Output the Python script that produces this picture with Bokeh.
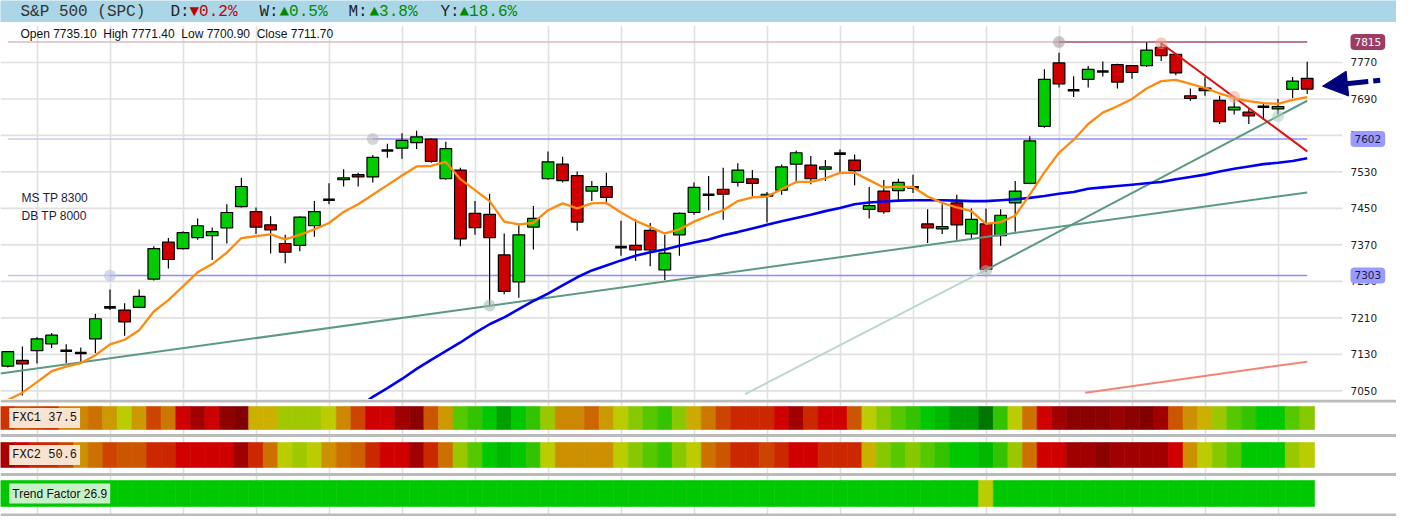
from bokeh.plotting import figure
from bokeh.models import Range1d, FixedTicker, Label, Arrow, NormalHead, Span, ColumnDataSource
from bokeh.layouts import column
from bokeh.embed import file_html
from bokeh.resources import INLINE
from bokeh.core.properties import value

# ---------------- data ----------------
opens = [7104, 7117, 7138, 7153, 7138, 7133, 7164, 7233, 7227, 7233,
         7295, 7376, 7362, 7386, 7390, 7407, 7454, 7443, 7414, 7373,
         7369, 7412, 7469, 7513, 7524, 7519, 7577, 7582, 7594, 7602,
         7515, 7534, 7439, 7437, 7348, 7289, 7409, 7515, 7547, 7522,
         7488, 7498, 7365, 7369, 7402, 7315, 7392, 7441, 7480, 7492,
         7507, 7515, 7477, 7490, 7547, 7545, 7536, 7570, 7556, 7448,
         7488, 7489, 7496, 7416, 7405, 7462, 7394, 7416, 7390, 7462,
         7505, 7630, 7769, 7709, 7733, 7750, 7765, 7763, 7763, 7803,
         7788, 7697, 7714, 7687, 7666, 7661, 7673, 7668, 7711, 7735.1]
highs = [7137, 7147, 7168, 7177, 7152, 7145, 7219, 7272, 7242, 7272,
         7367, 7385, 7400, 7428, 7408, 7459, 7517, 7452, 7433, 7392,
         7433, 7466, 7505, 7536, 7528, 7567, 7592, 7615, 7620, 7604,
         7596, 7539, 7466, 7482, 7395, 7413, 7455, 7575, 7563, 7531,
         7510, 7528, 7423, 7426, 7418, 7392, 7441, 7507, 7521, 7539,
         7549, 7534, 7486, 7546, 7577, 7565, 7556, 7579, 7568, 7497,
         7512, 7515, 7524, 7448, 7459, 7480, 7450, 7450, 7448, 7510,
         7608, 7755, 7791, 7740, 7762, 7772, 7767, 7764, 7814, 7814,
         7790, 7713, 7738, 7697, 7695, 7669, 7679, 7690, 7738, 7771.4]
lows = [7101, 7040, 7110, 7144, 7111, 7114, 7133, 7227, 7171, 7231,
        7292, 7318, 7360, 7381, 7337, 7373, 7452, 7394, 7351, 7330,
        7356, 7388, 7459, 7498, 7498, 7507, 7561, 7559, 7580, 7550,
        7513, 7367, 7392, 7238, 7262, 7254, 7360, 7513, 7507, 7401,
        7466, 7459, 7346, 7335, 7323, 7293, 7346, 7436, 7446, 7425,
        7498, 7476, 7419, 7480, 7508, 7503, 7510, 7529, 7501, 7428,
        7438, 7469, 7484, 7374, 7394, 7381, 7383, 7311, 7368, 7399,
        7503, 7627, 7715, 7694, 7715, 7739, 7713, 7734, 7760, 7773,
        7742, 7686, 7697, 7635, 7656, 7635, 7644, 7656, 7692, 7700.9]
closes = [7136, 7109, 7164, 7172, 7138, 7133, 7208, 7233, 7201, 7257,
          7362, 7338, 7397, 7412, 7399, 7441, 7498, 7409, 7403, 7354,
          7431, 7443, 7469, 7517, 7519, 7562, 7577, 7599, 7607, 7553,
          7581, 7383, 7408, 7386, 7268, 7392, 7428, 7552, 7511, 7420,
          7498, 7474, 7365, 7359, 7359, 7352, 7439, 7496, 7480, 7481,
          7534, 7505, 7481, 7541, 7572, 7515, 7541, 7570, 7533, 7456,
          7443, 7507, 7496, 7407, 7410, 7414, 7426, 7316, 7435, 7488,
          7598, 7733, 7723, 7709, 7755, 7750, 7727, 7748, 7797, 7785,
          7747, 7691, 7708, 7640, 7672, 7653, 7673, 7673, 7729, 7711.7]

ma_fast = [7030, 7046, 7069, 7093, 7103, 7111, 7128, 7152, 7162, 7183,
           7224, 7249, 7279, 7310, 7328, 7353, 7385, 7389, 7393, 7382,
           7392, 7404, 7418, 7442, 7459, 7480, 7501, 7522, 7542, 7543,
           7552, 7514, 7490, 7466, 7421, 7415, 7418, 7446, 7461, 7450,
           7461, 7462, 7441, 7423, 7409, 7395, 7404, 7421, 7434, 7446,
           7466, 7474, 7476, 7492, 7508, 7508, 7516, 7528, 7528, 7512,
           7496, 7497, 7497, 7476, 7462, 7452, 7444, 7416, 7420, 7434,
           7480, 7529, 7572, 7600, 7635, 7660, 7674, 7690, 7713, 7729,
           7732, 7723, 7714, 7702, 7692, 7685, 7681, 7679, 7688, 7694]

ma_slow_start = 24
ma_slow = [7013, 7037, 7056, 7076, 7098, 7118, 7137, 7156, 7177, 7196,
           7211, 7229, 7247, 7263, 7281, 7299, 7314, 7325, 7336, 7346,
           7354, 7360, 7368, 7375, 7382, 7391, 7398, 7406, 7414, 7422,
           7429, 7436, 7444, 7451, 7459, 7463, 7465, 7467, 7468, 7468,
           7468, 7467, 7466, 7466, 7468, 7470, 7473, 7477, 7482, 7486,
           7493, 7496, 7499, 7502, 7505, 7508, 7514, 7519, 7524, 7531,
           7537, 7542, 7547, 7550, 7554, 7560]

# trend lines: (bar index list, price list)
trend_long_x, trend_long_y = [-0.5, 89], [7088, 7485]
trend_steep_x, trend_steep_y = [67, 89], [7315, 7686]
trend_steep_ext_x, trend_steep_ext_y = [50.5, 67], [7043, 7315]
trend_down_x, trend_down_y = [79, 89], [7812, 7575]
channel_x, channel_y = [73.8, 89], [7046, 7114]

level_prices = [7815, 7602, 7303]
level_start = [72, 25, 7]
level_text = ["7815", "7602", "7303"]

anchor_idx = [7, 25, 33, 67, 72, 79, 84, 87]
anchor_price = [7303, 7602, 7237, 7313, 7815, 7812, 7694, 7652]

y_ticks = [7050, 7130, 7210, 7290, 7370, 7450, 7530, 7610, 7690, 7770]
xgrid_ticks = list(range(2, 90, 5))

notes = ["MS TP 8300", "DB TP 8000"]
notes_price = [7473, 7433]

header_parts = ["S&P 500 (SPC)", "D:", "\u25bc0.2%", "W:", "\u25b20.5%", "M:", "\u25b23.8%", "Y:", "\u25b218.6%"]
header_kind = ["name", "lab", "down", "lab", "up", "lab", "up", "lab", "up"]

fxc1_colors = ["#cc3300", "#cc5500", "#cc4400", "#cc3300", "#cc8800", "#cc8800", "#cc7000", "#cc9900", "#bbcc00", "#cc9900",
               "#cc4400", "#cc7700", "#d00000", "#a00000", "#cc0000", "#900000", "#800000", "#ccb000", "#ccb000", "#a0c800",
               "#a0c800", "#a0c800", "#bbcc00", "#cc8800", "#cc4400", "#d00000", "#d00000", "#a00000", "#8b0000", "#cc5500",
               "#cc9900", "#55c800", "#33c300", "#00c800", "#00a000", "#00c800", "#33c300", "#99c800", "#cc8800", "#cc8800",
               "#cc6600", "#cc9900", "#bbcc00", "#88c800", "#55c800", "#33c300", "#88c800", "#ccaa00", "#cc7700", "#cc4400",
               "#cc2800", "#cc2800", "#cc2800", "#d00000", "#a00000", "#cc2800", "#d00000", "#d00000", "#cc5500", "#bbcc00",
               "#88c800", "#55c800", "#33c300", "#00c800", "#00b800", "#00a000", "#00a000", "#007700", "#33c300", "#bbcc00",
               "#cc7000", "#d00000", "#a00000", "#8b0000", "#8b0000", "#8b0000", "#990000", "#8b0000", "#800000", "#a00000",
               "#cc5500", "#cc9000", "#ccb000", "#99c800", "#55c800", "#33c300", "#00c800", "#00c800", "#55c800", "#88c800"]
fxc2_colors = ["#a80000", "#d00000", "#cc2800", "#cc2800", "#cc4400", "#cc9000", "#cc7000", "#cc4400", "#cc5500", "#cc5500",
               "#cc2800", "#cc2800", "#d00000", "#d00000", "#d00000", "#d00000", "#a00000", "#cc2800", "#cc7000", "#bbcc00",
               "#a0c800", "#bbcc00", "#cc9000", "#cc7000", "#cc6000", "#cc2800", "#d00000", "#d00000", "#a00000", "#cc2800",
               "#cc7000", "#99c800", "#55c800", "#00c800", "#00b800", "#00c800", "#33c300", "#bbcc00", "#cc9000", "#cc9000",
               "#cc9000", "#cc9000", "#bbcc00", "#88c800", "#55c800", "#33c300", "#88c800", "#bbcc00", "#cc7000", "#cc5500",
               "#cc2800", "#cc2800", "#cc4400", "#cc2800", "#d00000", "#d00000", "#cc2800", "#cc2800", "#cc2800", "#ccb000",
               "#88c800", "#55c800", "#88c800", "#55c800", "#33c300", "#00c800", "#00c800", "#00b800", "#33c300", "#99c800",
               "#cc7000", "#d00000", "#d00000", "#a00000", "#a00000", "#8b0000", "#a00000", "#a00000", "#a00000", "#a00000",
               "#d00000", "#cc9000", "#bbcc00", "#88c800", "#55c800", "#00c800", "#00c800", "#00c800", "#99c800", "#bbcc00"]
trend_colors = ["#00c800"] * 67 + ["#bbcc00"] + ["#00c800"] * 22

strip_labels = ["FXC1 37.5", "FXC2 50.6", "Trend Factor 26.9"]

arrow_tail = (94.0, 7731)
arrow_tip = (90.05, 7718)

# ---------------- layout constants ----------------
W = 1396
BAR_PX = 14.6
MAIN_FRAME_W = 1342
MAIN_H = 377          # 3 px top gap + 374 px frame
HEADER_H = 22
STRIP_H = 117
GRID_COLOR = "#e0e0e0"
GREEN = "#00cc00"
RED = "#d00000"

n = len(opens)
idx = list(range(n))
x_grid_end = -0.5 + MAIN_FRAME_W / BAR_PX
x_full = Range1d(-0.5, -0.5 + W / BAR_PX)

def base_fig(height, y_range, **kw):
    f = figure(width=W, height=height, x_range=x_full, y_range=y_range,
               x_axis_location=None, y_axis_location=None, toolbar_location=None,
               output_backend="svg", min_border_left=0, min_border_right=0,
               min_border_bottom=0, **kw)
    f.outline_line_color = None
    f.ygrid.grid_line_color = None
    f.xgrid.ticker = FixedTicker(ticks=xgrid_ticks)
    f.xgrid.grid_line_color = GRID_COLOR
    f.xgrid.grid_line_width = 1.6
    return f

# ---------------- header ----------------
header = figure(width=W, height=HEADER_H, x_range=Range1d(0, W), y_range=Range1d(0, HEADER_H),
                x_axis_location=None, y_axis_location=None, toolbar_location=None,
                output_backend="svg", min_border=0)
header.grid.grid_line_color = None
header.background_fill_color = "#aad6e7"
header.border_fill_color = "#aad6e7"
header.outline_line_color = None
kind_color = {"name": "#333333", "lab": "#222222", "down": "#c40000", "up": "#008a00"}
hx = [20, 170, 189, 259, 279, 348, 369, 440, 459]
hsrc = ColumnDataSource(dict(x=hx, y=[11] * len(hx), t=header_parts,
                             c=[kind_color[k] for k in header_kind]))
header.text(x="x", y="y", text="t", text_color="c", source=hsrc,
            text_font=value("Liberation Mono"), text_font_size="16px", text_baseline="middle")

# ---------------- main price chart ----------------
p = base_fig(MAIN_H, Range1d(7031, 7851), min_border_top=3)

# horizontal grid (stops before the price scale)
p.segment(x0=[-0.5] * len(y_ticks), y0=y_ticks, x1=[x_grid_end] * len(y_ticks), y1=y_ticks,
          line_color=GRID_COLOR, line_width=1.6)
# price scale labels
p.text(x=[x_grid_end + 8 / BAR_PX] * len(y_ticks), y=y_ticks, text=[str(t) for t in y_ticks],
       text_font=value("DejaVu Sans"), text_font_size="10.5px", text_color="#222222",
       text_baseline="middle", text_align="left")

# level lines
faint = ["#d8bcc6", "#c8cce6", "#c4c8ee"]
strong = ["#a0506e", "#8c8cf2", "#8c8cff"]
p.segment(x0=[0] * 3, y0=level_prices, x1=level_start, y1=level_prices, line_color=faint, line_width=1.5)
p.segment(x0=level_start, y0=level_prices, x1=[n - 1] * 3, y1=level_prices, line_color=strong, line_width=1.5)

# candles
up = [i for i in idx if closes[i] > opens[i]]
dn = [i for i in idx if closes[i] < opens[i]]
dj = [i for i in idx if closes[i] == opens[i]]
p.segment(x0=idx, y0=lows, x1=idx, y1=highs, line_color="black", line_width=1.2)
p.vbar(x=up, width=0.8, bottom=[opens[i] for i in up], top=[closes[i] for i in up],
       fill_color=GREEN, line_color="black", line_width=1.2)
p.vbar(x=dn, width=0.8, bottom=[closes[i] for i in dn], top=[opens[i] for i in dn],
       fill_color=RED, line_color="black", line_width=1.2)
p.rect(x=dj, y=[closes[i] for i in dj], width=0.8, height=2.6, height_units="screen",
       fill_color="black", line_color=None)

# trend lines
p.line(trend_steep_ext_x, trend_steep_ext_y, line_color="#bcd8cc", line_width=2)
p.line(trend_long_x, trend_long_y, line_color="#5c9a84", line_width=2)
p.line(trend_steep_x, trend_steep_y, line_color="#5c9a84", line_width=2)
p.line(channel_x, channel_y, line_color="#f48474", line_width=2)
p.line(trend_down_x, trend_down_y, line_color="#dd1111", line_width=2)

# moving averages
p.line(list(range(ma_slow_start, ma_slow_start + len(ma_slow))), ma_slow, line_color="#0000ee", line_width=2.6)
p.line(idx, ma_fast, line_color="#ff8a10", line_width=2.3)

# anchors
anchor_colors = ["#b4bce0", "#b4b4b4", "#9cb8aa", "#a8b4ae", "#a8949c", "#f29a8c", "#f2a88c", "#a8d4bc"]
p.scatter(anchor_idx, anchor_price, size=12, fill_color=anchor_colors, fill_alpha=0.55, line_color=None)

# texts
ohlc_text = "Open %.2f \u00a0High %.2f \u00a0Low %.2f \u00a0Close %.2f" % (opens[-1], highs[-1], lows[-1], closes[-1])
p.add_layout(Label(x=0.87, y=7833, text=ohlc_text, text_font="Liberation Sans", text_font_size="12px",
                   text_color="#111111", text_baseline="middle"))
for t, pr in zip(notes, notes_price):
    p.add_layout(Label(x=0.94, y=pr, text=t, text_font="Liberation Sans", text_font_size="12px",
                       text_color="#1c1c3c", text_baseline="middle"))

# price-scale level labels
lbl_bg = ["#9e3c66", "#9a9aff", "#9a9aff"]
lbl_fg = ["#ffffff", "#1a1a4a", "#1a1a4a"]
for t, pr, bg, fg in zip(level_text, level_prices, lbl_bg, lbl_fg):
    p.add_layout(Label(x=x_grid_end + 8 / BAR_PX, y=pr, text=t, text_font="DejaVu Sans",
                       text_font_size="10.5px", text_color=fg, text_baseline="middle",
                       background_fill_color=bg, padding=4, border_radius=4))

navy = "#00007c"
p.add_layout(Arrow(end=NormalHead(size=25, fill_color=navy, line_color=navy),
                   x_start=arrow_tail[0], y_start=arrow_tail[1], x_end=arrow_tip[0], y_end=arrow_tip[1],
                   line_color=navy, line_width=5, line_dash="22 5", line_dash_offset=15))

# ---------------- indicator strips ----------------
s = base_fig(STRIP_H, Range1d(STRIP_H, 0), min_border_top=0)
for yy in [1.5, 36, 75, 115.5]:
    s.add_layout(Span(location=yy, dimension="width", line_color="#bbbbbb", line_width=3))

strip_y = [18.5, 55.5, 94]
strip_hh = [23, 25, 26]
for cols, yc, hh in zip([fxc1_colors, fxc2_colors, trend_colors], strip_y, strip_hh):
    s.rect(x=idx, y=[yc] * n, width=1, height=hh, fill_color=cols, line_color=cols, line_width=0.6)

lab_font = ["Liberation Mono", "Liberation Mono", "Liberation Sans"]
lab_bg = ["#f8e2d0", "#f8e2d0", "#c8f0c8"]
for t, yc, f, bg in zip(strip_labels, strip_y, lab_font, lab_bg):
    s.add_layout(Label(x=0.1, y=yc, text=t, text_font=f, text_font_size="12px", text_color="#111111",
                       text_baseline="middle", background_fill_color=bg, padding=3))

layout = column(header, p, s, spacing=0)
open("out.html", "w").write(file_html(layout, INLINE))
